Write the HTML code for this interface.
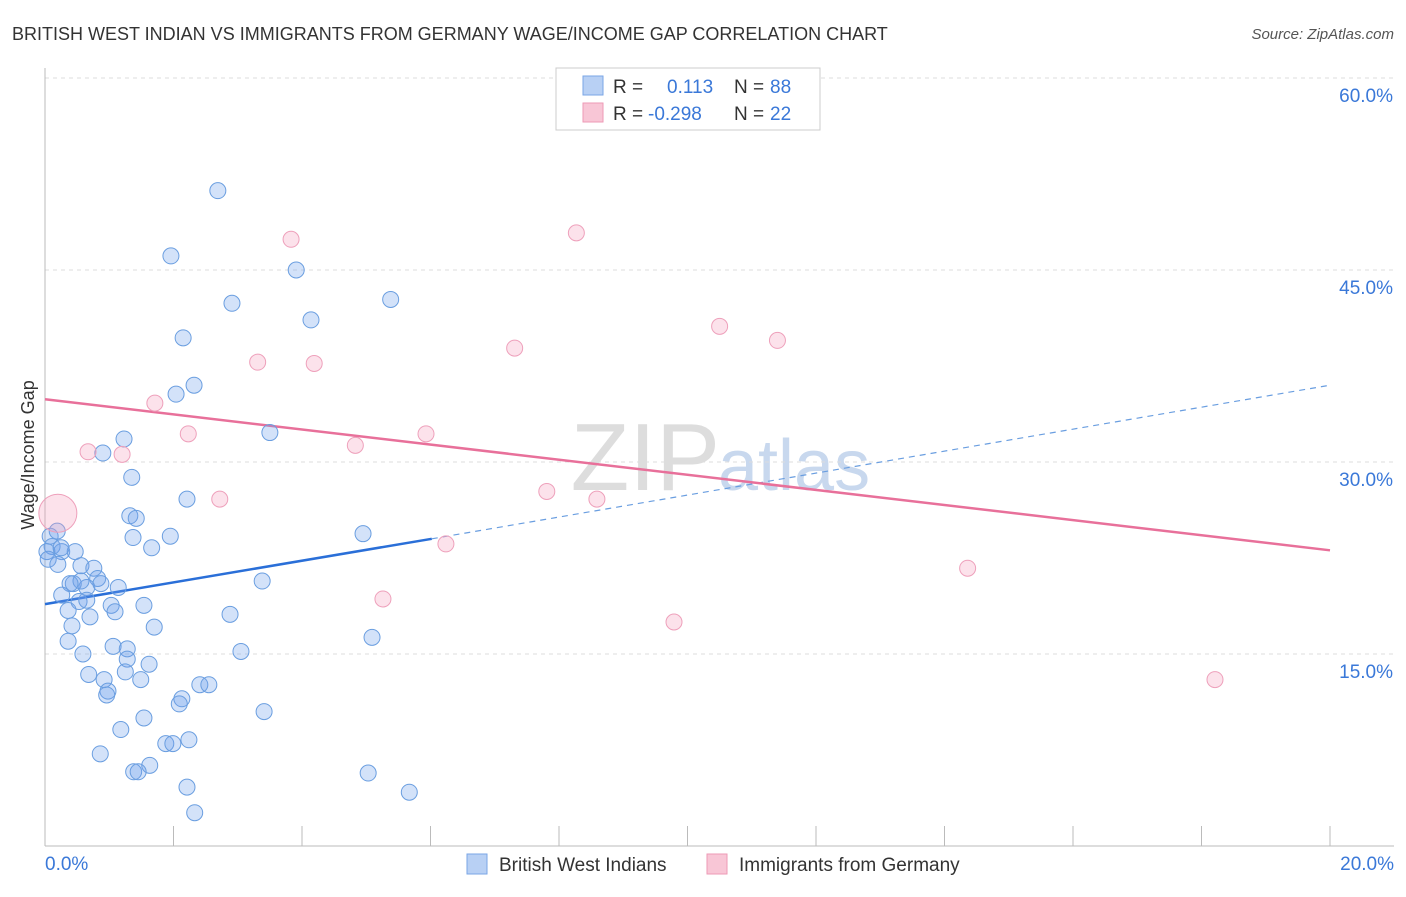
<!DOCTYPE html>
<html><head><meta charset="utf-8"><style>
body{margin:0;background:#fff;font-family:"Liberation Sans",sans-serif;}
svg text{font-family:"Liberation Sans",sans-serif;}
</style></head><body>
<svg id="chart" width="1406" height="892" viewBox="0 0 1406 892">
<text x="12" y="40" font-size="18" fill="#333">BRITISH WEST INDIAN VS IMMIGRANTS FROM GERMANY WAGE/INCOME GAP CORRELATION CHART</text>
<text x="1394" y="39" font-size="15" fill="#555" text-anchor="end" font-style="italic">Source: ZipAtlas.com</text>
<text x="720" y="490" font-size="96" fill="#ddd" text-anchor="end" font-family="Liberation Serif">ZIP</text>
<text x="718" y="490" font-size="72" fill="#c8d8ee">atlas</text>
<g id="grid"></g>
<g id="axes"></g>
<g id="lines"></g>
<g id="points"></g>
<text transform="translate(34,455) rotate(-90)" font-size="18" fill="#333" text-anchor="middle">Wage/Income Gap</text>
<g>
<rect x="556" y="68" width="264" height="62" fill="#fff" stroke="#ccc"/>
<rect x="583" y="76" width="20" height="19" fill="#b8d0f4" stroke="#7aa6e6"/>
<rect x="583" y="103" width="20" height="19" fill="#f8c6d6" stroke="#ee9ab6"/>
<text x="613" y="93" font-size="19" fill="#333">R =</text>
<text x="667" y="93" font-size="19" fill="#3a78d8">0.113</text>
<text x="734" y="93" font-size="19" fill="#333">N =</text>
<text x="770" y="93" font-size="19" fill="#3a78d8">88</text>
<text x="613" y="120" font-size="19" fill="#333">R =</text>
<text x="648" y="120" font-size="19" fill="#3a78d8">-0.298</text>
<text x="734" y="120" font-size="19" fill="#333">N =</text>
<text x="770" y="120" font-size="19" fill="#3a78d8">22</text>
</g>
<g>
<rect x="467" y="854" width="20" height="20" fill="#b8d0f4" stroke="#7aa6e6"/>
<text x="499" y="871" font-size="19" fill="#333">British West Indians</text>
<rect x="707" y="854" width="20" height="20" fill="#f8c6d6" stroke="#ee9ab6"/>
<text x="739" y="871" font-size="19" fill="#333">Immigrants from Germany</text>
</g>
</svg>
<script>
const yTicks=[15,30,45,60];
const yTickLabels=["15.0%","30.0%","45.0%","60.0%"];
const xTickVals=[2,4,6,8,10,12,14,16,18,20];
const xAxisLabels=["0.0%","20.0%"];
const blueX=[2.69,1.96,3.91,2.91,5.38,4.14,2.15,2.32,2.04,1.23,0.90,3.50,1.35,2.21,1.32,1.42,1.37,1.95,1.66,4.95,0.08,0.19,0.11,0.03,0.26,0.47,0.05,0.20,0.56,0.76,0.82,0.87,1.14,0.65,0.44,0.56,0.39,0.26,0.53,0.65,1.03,0.36,0.70,1.09,1.54,3.38,0.42,1.70,2.88,0.36,1.06,1.28,3.05,5.09,0.59,1.28,1.62,1.25,0.68,0.92,1.49,2.41,2.55,2.13,2.09,0.98,0.96,3.41,1.54,1.18,0.86,2.24,1.88,1.99,1.63,1.38,1.45,5.03,2.21,5.67,2.33,0.25];
const blueY=[51.2,46.1,45.0,42.4,42.7,41.1,39.7,36.0,35.3,31.8,30.7,32.3,28.8,27.1,25.8,25.6,24.1,24.2,23.3,24.4,24.2,24.6,23.4,23.0,23.0,23.0,22.4,22.0,21.9,21.7,20.9,20.5,20.2,20.2,20.5,20.7,20.5,19.6,19.1,19.2,18.8,18.4,17.9,18.3,18.8,20.7,17.2,17.1,18.1,16.0,15.6,15.4,15.2,16.3,15.0,14.6,14.2,13.6,13.4,13.0,13.0,12.6,12.6,11.5,11.1,12.1,11.8,10.5,10.0,9.1,7.2,8.3,8.0,8.0,6.3,5.8,5.8,5.7,4.6,4.2,2.6,23.3];
const pinkX=[0.20,3.83,8.27,10.50,11.40,7.31,3.31,4.19,1.71,0.67,1.20,2.23,5.93,4.83,2.72,7.81,8.59,6.24,5.26,14.36,9.79,18.21];
const pinkY=[26.0,47.4,47.9,40.6,39.5,38.9,37.8,37.7,34.6,30.8,30.6,32.2,32.2,31.3,27.1,27.7,27.1,23.6,19.3,21.7,17.5,13.0];
const pinkR=[19,8,8,8,8,8,8,8,8,8,8,8,8,8,8,8,8,8,8,8,8,8];
const blueTrend=[0,18.9,6.02,24.0,20,36.0];
const pinkTrend=[0,34.9,20,23.1];
const X=v=>45+v/20*1285, Y=v=>846-v/15*192;
const NS="http://www.w3.org/2000/svg";
function mk(tag,attrs,parent){const e=document.createElementNS(NS,tag);for(const k in attrs)e.setAttribute(k,attrs[k]);document.getElementById(parent).appendChild(e);return e;}
yTicks.forEach((t,i)=>{
 const g=mk('line',{x1:45,x2:1394,y1:Y(t),y2:Y(t),stroke:'#ddd','stroke-dasharray':'4,4'},'grid');
 
 
 const l=mk('text',{x:1393,y:Y(t)+24,'font-size':19,fill:'#3a78d8','text-anchor':'end'},'axes');
 l.textContent=yTickLabels[i];
 
 
});
const ax=mk('line',{x1:45,x2:45,y1:68,y2:846,stroke:'#bbb'},'axes');


const bx=mk('line',{x1:45,x2:1394,y1:846,y2:846,stroke:'#bbb'},'axes');


xTickVals.forEach(t=>{
 const tk=mk('line',{x1:X(t),x2:X(t),y1:826,y2:846,stroke:'#bbb'},'axes');
 
 
});
[[0,'start',45],[1,'end',1394]].forEach(([i,a,x])=>{
 const t=mk('text',{x:x,y:870,'font-size':19,fill:'#3a78d8','text-anchor':a},'axes');
 t.textContent=xAxisLabels[i];
 
 
});
blueX.forEach((v,i)=>{
 const c=mk('circle',{cx:X(v),cy:Y(blueY[i]),r:8,fill:'rgba(110,160,235,0.3)',stroke:'#6a9ee0','stroke-width':1},'points');
 
 
});
pinkX.forEach((v,i)=>{
 const c=mk('circle',{cx:X(v),cy:Y(pinkY[i]),r:pinkR[i],fill:'rgba(245,160,190,0.3)',stroke:'#eea0bb','stroke-width':1},'points');
 
 
});
const b1=mk('line',{x1:X(blueTrend[0]),y1:Y(blueTrend[1]),x2:X(blueTrend[2]),y2:Y(blueTrend[3]),stroke:'#2a6fd8','stroke-width':2.5},'lines');


const b2=mk('line',{x1:X(blueTrend[2]),y1:Y(blueTrend[3]),x2:X(blueTrend[4]),y2:Y(blueTrend[5]),stroke:'#6a9ee0','stroke-width':1.2,'stroke-dasharray':'6,5'},'lines');


const p1=mk('line',{x1:X(pinkTrend[0]),y1:Y(pinkTrend[1]),x2:X(pinkTrend[2]),y2:Y(pinkTrend[3]),stroke:'#e8709a','stroke-width':2.5},'lines');


</script>
</body></html>
